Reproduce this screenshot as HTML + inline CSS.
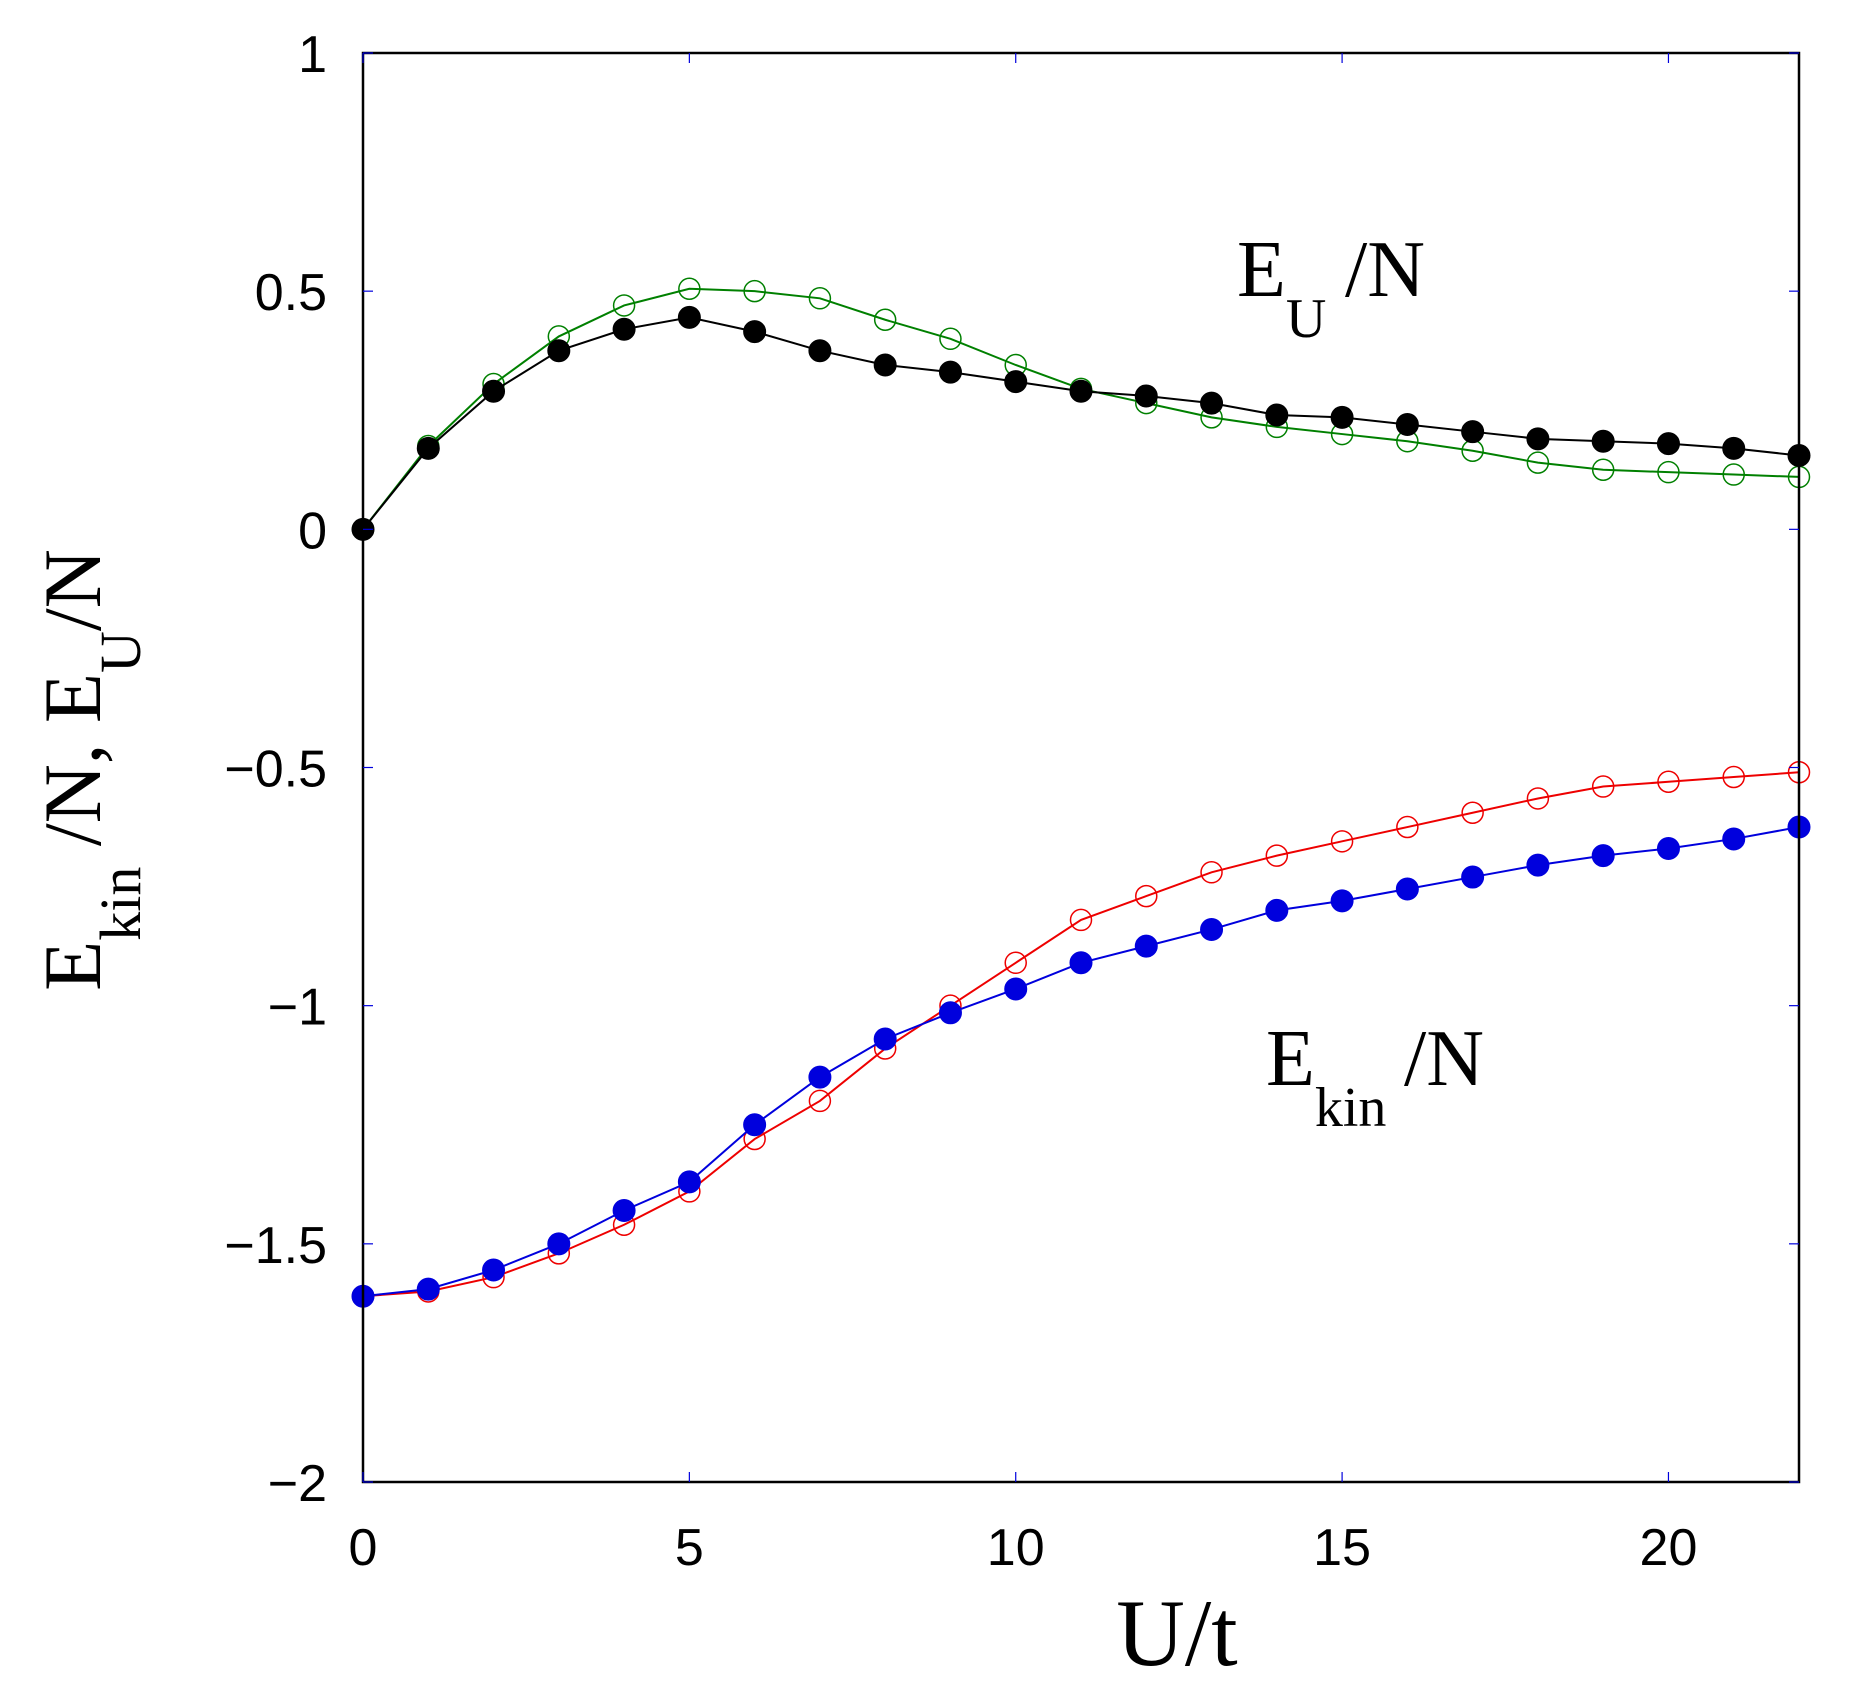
<!DOCTYPE html>
<html><head><meta charset="utf-8">
<style>
html,body{margin:0;padding:0;background:#fff;}
svg{display:block;}
.tick{font-family:"Liberation Sans",sans-serif;font-size:52px;fill:#000;}
.ser{font-family:"Liberation Serif",serif;fill:#000;}
</style></head>
<body>
<svg id="chart" width="1856" height="1700" viewBox="0 0 1856 1700" xmlns="http://www.w3.org/2000/svg">
<g id="marks"></g>
<rect x="363" y="53" width="1436" height="1429" fill="none" stroke="#000" stroke-width="2.5"/>
<g id="axes"></g>
<text class="ser" x="1177" y="1665" font-size="95" text-anchor="middle">U/t</text>
<g transform="translate(100,770) rotate(-90)">
<text class="ser" x="0" y="0" font-size="82" text-anchor="middle">E<tspan font-size="58" dy="40">kin</tspan><tspan dy="-40"> /N, E</tspan><tspan font-size="58" dy="40">U</tspan><tspan dy="-40">/N</tspan></text>
</g>
<text class="ser" x="1237" y="296" font-size="80">E<tspan font-size="56" dy="41">U</tspan><tspan dy="-41" x="1345">/N</tspan></text>
<text class="ser" x="1266" y="1085" font-size="80">E<tspan font-size="56" dy="41">kin</tspan><tspan dy="-41" x="1404">/N</tspan></text>
</svg>
<script>
const xValues = [0,1,2,3,4,5,6,7,8,9,10,11,12,13,14,15,16,17,18,19,20,21,22];
const euFilled = [0,0.17,0.29,0.375,0.42,0.445,0.415,0.375,0.345,0.33,0.31,0.29,0.28,0.265,0.24,0.235,0.22,0.205,0.19,0.185,0.18,0.17,0.155];
const euOpen = [0,0.175,0.305,0.405,0.47,0.505,0.5,0.485,0.44,0.4,0.345,0.295,0.265,0.235,0.215,0.2,0.185,0.165,0.14,0.125,0.12,0.115,0.11];
const ekinOpen = [-1.61,-1.6,-1.57,-1.52,-1.46,-1.39,-1.28,-1.2,-1.09,-1.0,-0.91,-0.82,-0.77,-0.72,-0.685,-0.655,-0.625,-0.595,-0.565,-0.54,-0.53,-0.52,-0.51];
const ekinFilled = [-1.61,-1.595,-1.555,-1.5,-1.43,-1.37,-1.25,-1.15,-1.07,-1.015,-0.965,-0.91,-0.875,-0.84,-0.8,-0.78,-0.755,-0.73,-0.705,-0.685,-0.67,-0.65,-0.625];
const xTicks = [0,5,10,15,20];
const yTicks = [1,0.5,0,-0.5,-1,-1.5,-2];
const yTickLabels = ["1","0.5","0","\u22120.5","\u22121","\u22121.5","\u22122"];

const X0=363,X1=1799,Y0=53,Y1=1482;
const sx = v => X0 + (v-0)/(22-0)*(X1-X0);
const sy = v => Y0 + (1-v)/(1-(-2))*(Y1-Y0);
const NS="http://www.w3.org/2000/svg";
const marks=document.getElementById('marks');
const axes=document.getElementById('axes');

function series(vals,color,filled,name){
  const pl=document.createElementNS(NS,'polyline');
  pl.setAttribute('points',vals.map((v,i)=>sx(xValues[i])+','+sy(v)).join(' '));
  pl.setAttribute('fill','none');pl.setAttribute('stroke',color);pl.setAttribute('stroke-width','2');
  
  
  marks.appendChild(pl);
  vals.forEach((v,i)=>{
    const c=document.createElementNS(NS,'circle');
    c.setAttribute('cx',sx(xValues[i]));c.setAttribute('cy',sy(v));c.setAttribute('r',filled?11:10.5);
    c.setAttribute('fill',filled?color:'none');c.setAttribute('stroke',color);c.setAttribute('stroke-width',filled?1:1.5);
    
    
    marks.appendChild(c);
  });
}
series(euOpen,'#008000',false,'eu-open');
series(ekinOpen,'#ee0000',false,'ekin-open');
series(euFilled,'#000000',true,'eu-filled');
series(ekinFilled,'#0000dd',true,'ekin-filled');

xTicks.forEach(t=>{
  [[Y1,Y1-10],[Y0,Y0+10]].forEach(p=>{
    const l=document.createElementNS(NS,'line');
    l.setAttribute('x1',sx(t));l.setAttribute('x2',sx(t));l.setAttribute('y1',p[0]);l.setAttribute('y2',p[1]);
    l.setAttribute('stroke','#0000dd');l.setAttribute('stroke-width','1.2');
    
    
    axes.appendChild(l);
  });
  const tx=document.createElementNS(NS,'text');
  tx.setAttribute('x',sx(t));tx.setAttribute('y',1565);tx.setAttribute('text-anchor','middle');tx.setAttribute('class','tick');
  tx.textContent=String(t);
  
  
  axes.appendChild(tx);
});
yTicks.forEach((t,i)=>{
  [[X0,X0+10],[X1,X1-10]].forEach(p=>{
    const l=document.createElementNS(NS,'line');
    l.setAttribute('y1',sy(t));l.setAttribute('y2',sy(t));l.setAttribute('x1',p[0]);l.setAttribute('x2',p[1]);
    l.setAttribute('stroke','#0000dd');l.setAttribute('stroke-width','1.2');
    
    
    axes.appendChild(l);
  });
  const tx=document.createElementNS(NS,'text');
  tx.setAttribute('x',327);tx.setAttribute('y',sy(t)+19);tx.setAttribute('text-anchor','end');tx.setAttribute('class','tick');
  tx.textContent=yTickLabels[i];
  
  
  axes.appendChild(tx);
});
</script>
</body></html>
